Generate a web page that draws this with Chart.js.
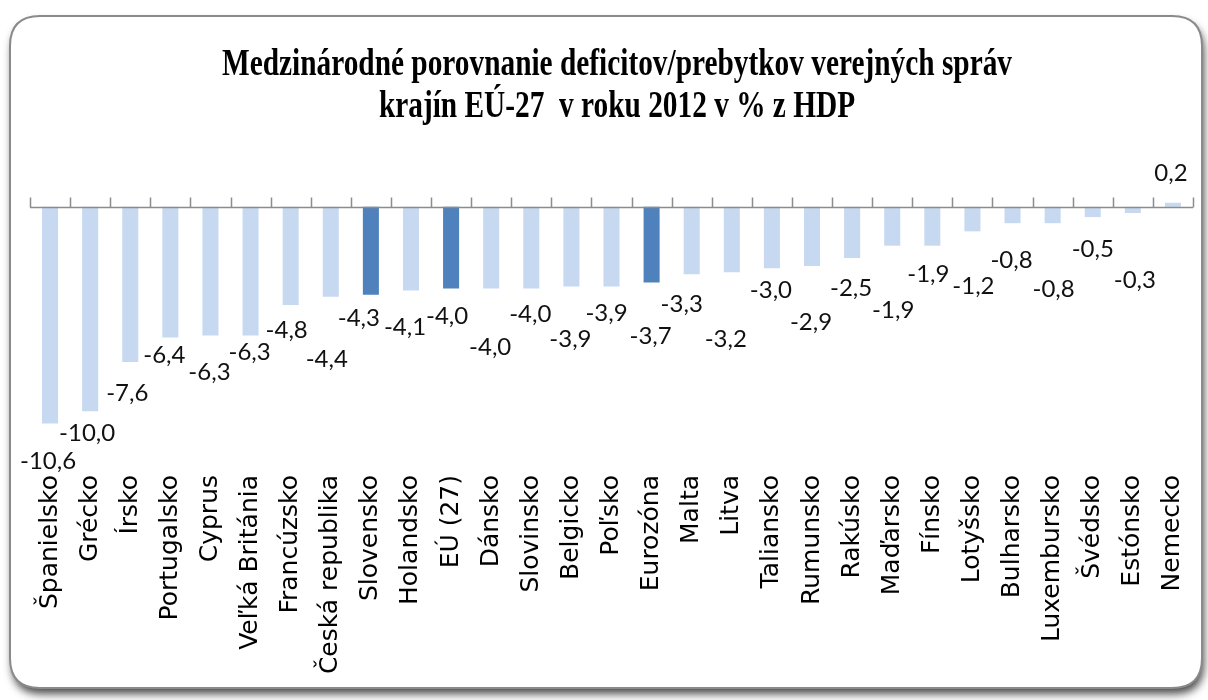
<!DOCTYPE html>
<html>
<head>
<meta charset="utf-8">
<title>Deficit EÚ-27 2012</title>
<style>
  html, body { margin: 0; padding: 0; background: #ffffff; }
  #wrap { width: 1208px; height: 700px; position: relative; }
</style>
</head>
<body>
<div id="wrap"><canvas id="chart"></canvas></div>
<script src="https://cdn.jsdelivr.net/npm/chart.js@4.4.1/dist/chart.umd.min.js"></script>
<script>
// data
const countries = [
  'Španielsko', 'Grécko', 'Írsko', 'Portugalsko', 'Cyprus', 'Veľká Británia',
  'Francúzsko', 'Česká republika', 'Slovensko', 'Holandsko', 'EÚ (27)', 'Dánsko',
  'Slovinsko', 'Belgicko', 'Poľsko', 'Eurozóna', 'Malta', 'Litva', 'Taliansko',
  'Rumunsko', 'Rakúsko', 'Maďarsko', 'Fínsko', 'Lotyšsko', 'Bulharsko',
  'Luxembursko', 'Švédsko', 'Estónsko', 'Nemecko'
];
const deficit = [
  -10.6, -10.0, -7.6, -6.4, -6.3, -6.3,
  -4.8, -4.4, -4.3, -4.1, -4.0, -4.0,
  -4.0, -3.9, -3.9, -3.7, -3.3, -3.2, -3.0,
  -2.9, -2.5, -1.9, -1.9, -1.2, -0.8,
  -0.8, -0.5, -0.3, 0.2
];
const highlighted = ['Slovensko', 'EÚ (27)', 'Eurozóna'];
const titleLines = [
  'Medzinárodné porovnanie deficitov/prebytkov verejných správ',
  'krajín EÚ-27  v roku 2012 v % z HDP'
];

// styling
const lightBlue = '#c6d9f1';
const darkBlue = '#4f81bd';
const axisGray = '#8c8c8c';
// label nudges (px) as Excel placed them, relative to the bar end
const labelDY = [38, 22, 31, 18, 37, 17, 25, 63, 24, 37, 28, 59, 26, 53, 27, 54, 30, 67, 22, 56, 30, 65, 29, 55, 37, 66, 32, 67, -30];
const labelDX = [-2, -3, -3, -6, -1, -1, -4, -4, -12, -6, -4, -1, -1, -1, -5, -1, -10, -6, -1, -1, -1, 1, -4, 1, -1, 1, 0, 2, -2];

function fmt(v) {
  return v.toFixed(1).replace('.', ',');
}

function roundRect(ctx, x, y, w, h, r) {
  ctx.beginPath();
  ctx.moveTo(x + r, y);
  ctx.lineTo(x + w - r, y);
  ctx.quadraticCurveTo(x + w, y, x + w, y + r);
  ctx.lineTo(x + w, y + h - r);
  ctx.quadraticCurveTo(x + w, y + h, x + w - r, y + h);
  ctx.lineTo(x + r, y + h);
  ctx.quadraticCurveTo(x, y + h, x, y + h - r);
  ctx.lineTo(x, y + r);
  ctx.quadraticCurveTo(x, y, x + r, y);
  ctx.closePath();
}

const framePlugin = {
  id: 'frame',
  beforeDraw(chart) {
    const ctx = chart.ctx;
    ctx.save();
    ctx.fillStyle = '#ffffff';
    ctx.fillRect(0, 0, chart.width, chart.height);
    roundRect(ctx, 10, 16, 1192, 672, 30);
    ctx.shadowColor = 'rgba(0,0,0,0.7)';
    ctx.shadowBlur = 9;
    ctx.shadowOffsetX = 2;
    ctx.shadowOffsetY = 6;
    ctx.fill();
    ctx.shadowColor = 'transparent';
    ctx.strokeStyle = '#8a8a8a';
    ctx.lineWidth = 2;
    ctx.stroke();

    // title, condensed serif like the original
    ctx.fillStyle = '#000000';
    ctx.font = 'bold 38px "Liberation Serif", "Times New Roman", serif';
    ctx.textAlign = 'center';
    ctx.textBaseline = 'alphabetic';
    const sx = 790 / ctx.measureText(titleLines[0]).width;
    ctx.translate(617, 75);
    ctx.scale(sx, 1);
    ctx.fillText(titleLines[0], 0, 0);
    ctx.fillText(titleLines[1], 0, 42);
    ctx.restore();
  }
};

const axisPlugin = {
  id: 'zeroAxis',
  afterDatasetsDraw(chart) {
    const ctx = chart.ctx;
    const y0 = Math.round(chart.scales.y.getPixelForValue(0)) + 0.5;
    const left = chart.chartArea.left;
    const right = chart.chartArea.right;
    const step = (right - left) / countries.length;
    ctx.save();
    ctx.strokeStyle = axisGray;
    ctx.lineWidth = 1.5;
    ctx.beginPath();
    ctx.moveTo(left, y0);
    ctx.lineTo(right, y0);
    for (let i = 0; i <= countries.length; i++) {
      const tx = Math.round(left + i * step) + 0.5;
      ctx.moveTo(tx, y0);
      ctx.lineTo(tx, y0 - 10);
    }
    ctx.stroke();

    // data labels
    const meta = chart.getDatasetMeta(0);
    ctx.fillStyle = '#111111';
    ctx.font = '24px Lato, "Open Sans", sans-serif';
    ctx.textAlign = 'center';
    ctx.textBaseline = 'middle';
    meta.data.forEach((bar, i) => {
      ctx.fillText(fmt(deficit[i]), bar.x + labelDX[i], bar.y + labelDY[i]);
    });
    ctx.restore();
  }
};

new Chart(document.getElementById('chart'), {
  type: 'bar',
  data: {
    labels: countries,
    datasets: [{
      data: deficit,
      backgroundColor: countries.map(c => highlighted.includes(c) ? darkBlue : lightBlue),
      borderWidth: 0,
      barPercentage: 0.4,
      categoryPercentage: 1.0
    }]
  },
  options: {
    responsive: true,
    maintainAspectRatio: false,
    animation: false,
    devicePixelRatio: 1,
    layout: { padding: { left: 30, right: 15, top: 166, bottom: 0 } },
    plugins: {
      legend: { display: false },
      tooltip: { enabled: false }
    },
    scales: {
      x: {
        grid: { display: false },
        border: { display: false },
        ticks: {
          autoSkip: false,
          minRotation: 90,
          maxRotation: 90,
          padding: 15,
          color: '#000000',
          font: { family: '"DejaVu Sans", sans-serif', size: 25 }
        },
        afterFit(scale) {
          scale.height = 248;
          scale.paddingLeft = 0;
          scale.paddingRight = 0;
        }
      },
      y: {
        display: false,
        min: -12,
        max: 2
      }
    }
  },
  plugins: [framePlugin, axisPlugin]
});
</script>
</body>
</html>
